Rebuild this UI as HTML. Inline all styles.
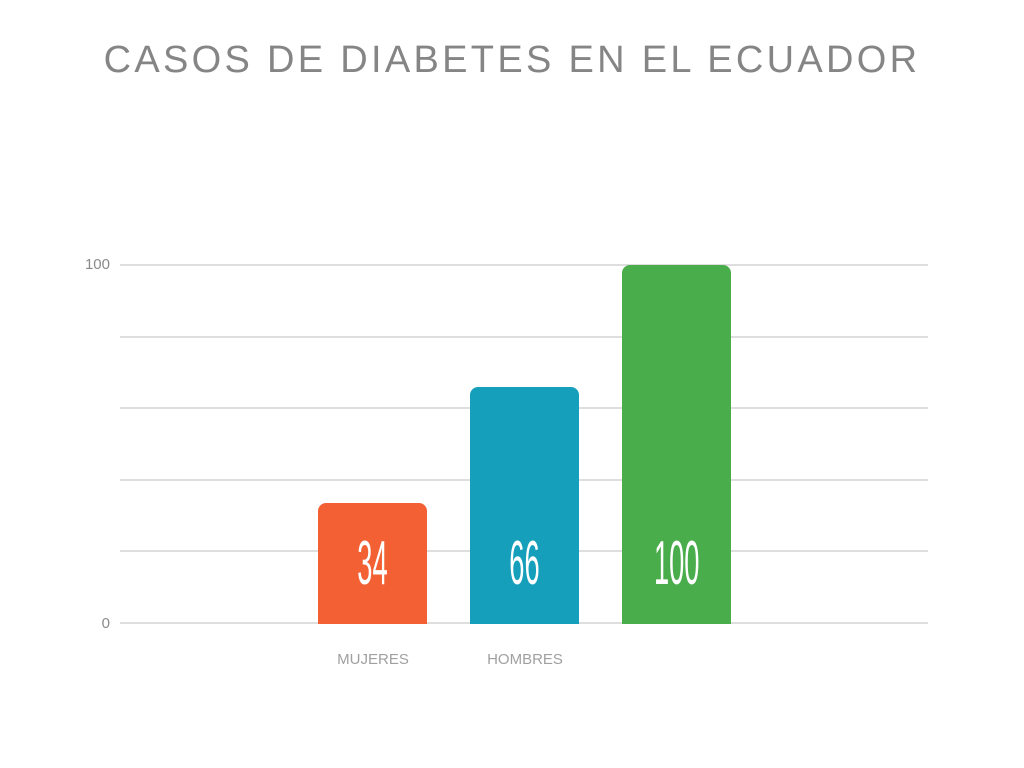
<!DOCTYPE html>
<html><head><meta charset="utf-8"><style>
html,body{margin:0;padding:0;background:#fff;}
body{width:1024px;height:768px;overflow:hidden;position:relative;font-family:"Liberation Sans",sans-serif;}
.t{position:absolute;left:0;width:1024px;top:39px;text-align:center;font-size:38px;letter-spacing:3.3px;color:#858585;}
.g{position:absolute;left:120px;width:808px;height:2px;background:#dedede;}
.yl{position:absolute;left:60px;width:50px;text-align:right;font-size:15px;color:#8a8a8a;}
.b{position:absolute;width:109px;border-radius:8px 8px 0 0;}
.v{position:absolute;width:109px;text-align:center;top:533px;font-size:62px;color:#fff;line-height:62px;font-family:"Liberation Sans",sans-serif;}
.v span{display:inline-block;transform:scaleX(0.44);}
.xl{position:absolute;top:651px;width:160px;text-align:center;font-size:15px;color:#a0a0a0;}
</style></head><body>
<div class="t">CASOS DE DIABETES EN EL ECUADOR</div>
<div class="g" style="top:264px"></div>
<div class="g" style="top:336px"></div>
<div class="g" style="top:407px"></div>
<div class="g" style="top:479px"></div>
<div class="g" style="top:550px"></div>
<div class="g" style="top:622px"></div>
<div class="yl" style="top:256px">100</div>
<div class="yl" style="top:615px">0</div>
<div class="b" style="left:318px;top:503px;height:121px;background:#f26033"></div>
<div class="b" style="left:470px;top:387px;height:237px;background:#159fbb"></div>
<div class="b" style="left:622px;top:265px;height:359px;background:#4aad4b"></div>
<div class="v" style="left:318px"><span>34</span></div>
<div class="v" style="left:470px"><span>66</span></div>
<div class="v" style="left:622px"><span>100</span></div>
<div class="xl" style="left:293px">MUJERES</div>
<div class="xl" style="left:445px">HOMBRES</div>
</body></html>
